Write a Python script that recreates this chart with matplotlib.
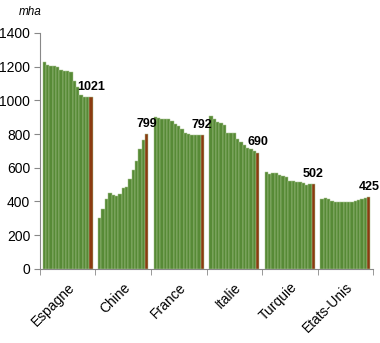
import matplotlib.pyplot as plt
import numpy as np

plt.rcParams['font.family'] = ['Liberation Sans', 'DejaVu Sans']

countries = ['Espagne', 'Chine', 'France', 'Italie', 'Turquie', 'Etats-Unis']
espagne = [1230, 1212, 1202, 1205, 1198, 1183, 1177, 1174, 1168, 1113, 1080, 1034, 1020, 1020, 1021]
chine = [300, 353, 415, 449, 439, 432, 444, 478, 488, 532, 587, 643, 710, 762, 799]
france = [901, 895, 889, 890, 889, 880, 861, 845, 829, 805, 800, 795, 795, 795, 792]
italie = [908, 890, 871, 863, 851, 805, 805, 805, 770, 752, 736, 716, 710, 702, 690]
turquie = [573, 563, 567, 567, 555, 552, 547, 522, 521, 514, 514, 508, 496, 502, 502]
etats_unis = [413, 422, 413, 405, 395, 395, 395, 395, 399, 399, 403, 409, 413, 419, 425]
series = [espagne, chine, france, italie, turquie, etats_unis]

green = '#578a36'
brown = '#8b3a10'
G = 16.6  # slots per group

fig = plt.figure(figsize=(3.8, 3.43), dpi=100)
ax = fig.add_axes([0.105, 0.216, 0.877, 0.688])

for g, vals in enumerate(series):
    n = len(vals)
    xs = g * G + 0.8 + np.arange(n) + 0.5
    colors = [green] * (n - 1) + [brown]
    ax.bar(xs, vals, width=1.0, color=colors, edgecolor='#a9c490', linewidth=0.35)
    ax.text(xs[-1], vals[-1] + 25, str(vals[-1]), ha='center', va='bottom',
            fontsize=9, fontweight='bold')

ax.set_xlim(0, 6 * G)
ax.set_ylim(0, 1400)
ax.set_yticks(range(0, 1401, 200))
ax.tick_params(axis='y', labelsize=10, color='#888888', length=4, pad=3)
ax.set_xticks([g * G for g in range(7)], minor=True)
ax.set_xticks([g * G + G / 2 for g in range(6)])
ax.set_xticklabels(countries, rotation=45, ha='right', rotation_mode='anchor', fontsize=10)
ax.tick_params(axis='x', which='major', length=0, pad=8)
ax.tick_params(axis='x', which='minor', length=4, color='#888888')
for s in ['top', 'right']:
    ax.spines[s].set_visible(False)
for s in ['left', 'bottom']:
    ax.spines[s].set_color('#888888')

fig.text(0.05, 0.965, 'mha', fontsize=8.5, style='italic', va='center')

fig.savefig('out.png', dpi=100)
